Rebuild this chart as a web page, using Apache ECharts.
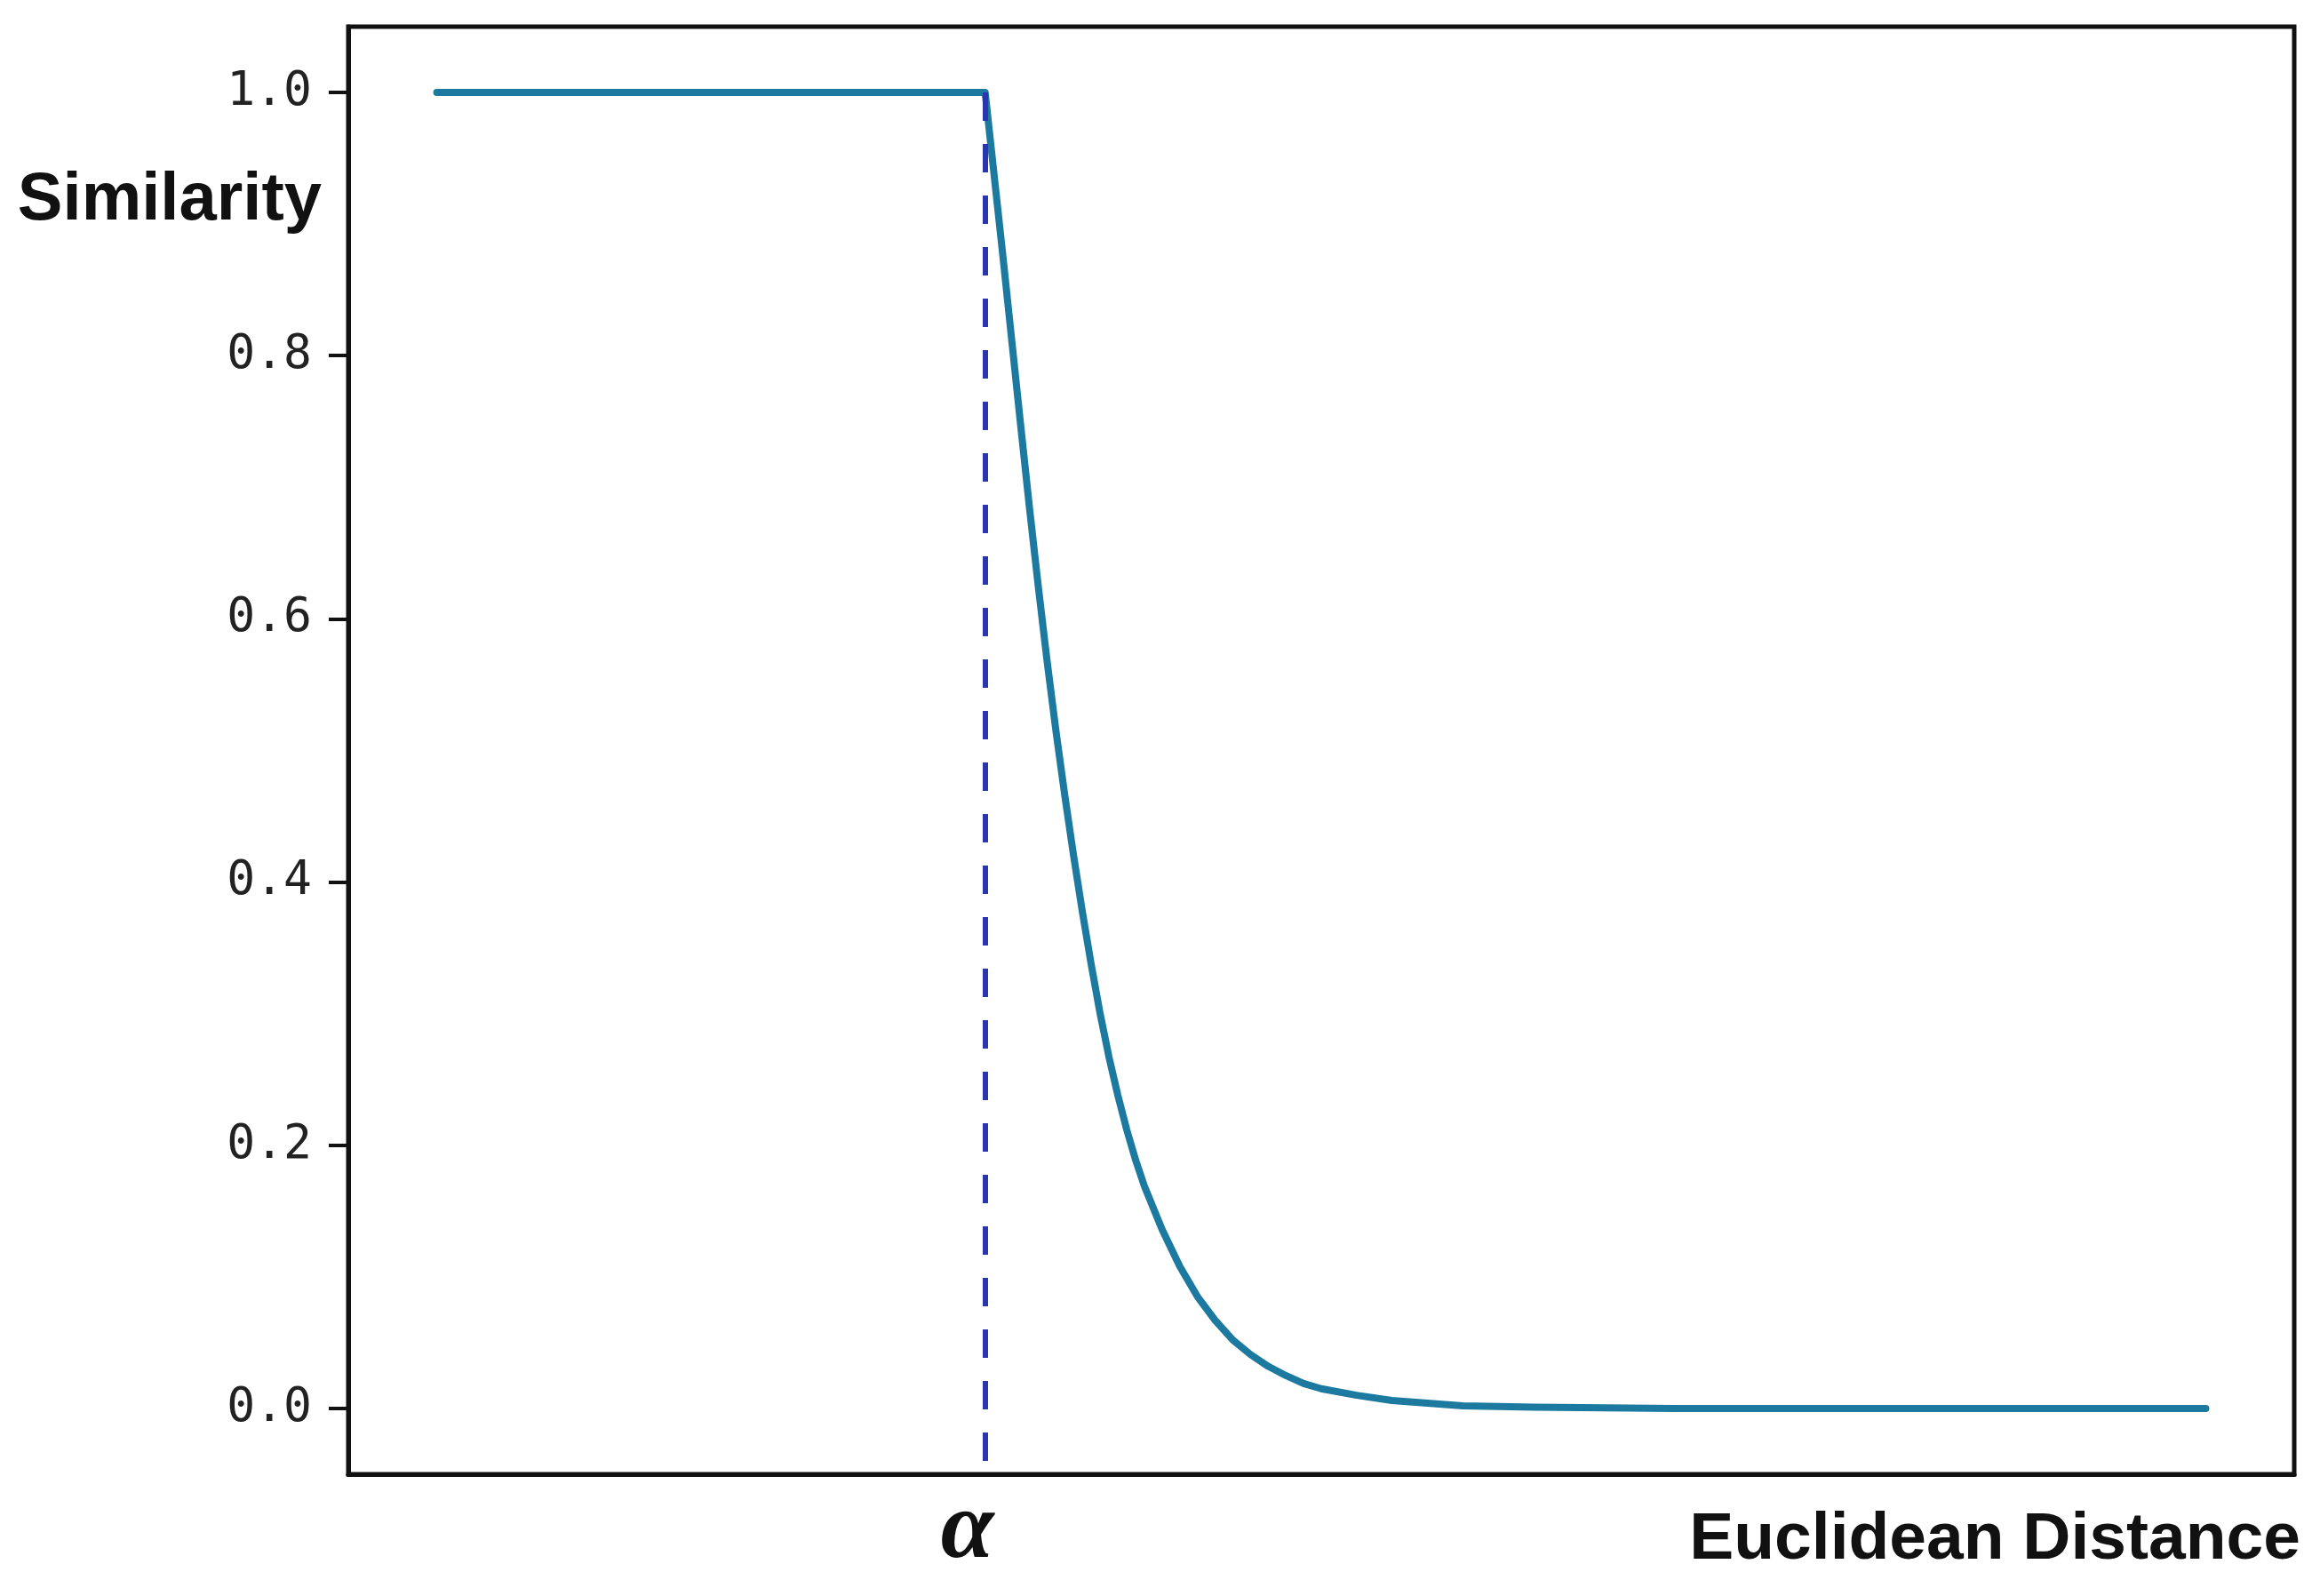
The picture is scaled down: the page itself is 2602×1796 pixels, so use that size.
<!DOCTYPE html>
<html>
<head>
<meta charset="utf-8">
<title>Similarity vs Euclidean Distance</title>
<script src="https://cdn.jsdelivr.net/npm/echarts@6.0.0/dist/echarts.min.js"></script>
<style>
    html, body { margin: 0; padding: 0; background: #fff; }
    #chart { width: 2602px; height: 1796px; }
</style>
</head>
<body>
<div id="chart"></div>
<script>
// values (x in arbitrary distance units)
const distance = [
    0, 1, 2, 3.1, 3.15, 3.2, 3.25, 3.3, 3.35, 3.4, 3.45, 3.5, 3.55, 3.6, 3.65, 3.7, 3.75,
    3.8, 3.85, 3.9, 3.95, 4.0, 4.1, 4.2, 4.3, 4.4, 4.5, 4.6, 4.7, 4.8, 4.9, 5.0, 5.2,
    5.4, 5.6, 5.8, 6.2, 7, 8.5, 10
];
const similarity = [
    1, 1, 1, 1, 0.938, 0.876, 0.812, 0.748, 0.685, 0.625, 0.568, 0.515, 0.466, 0.42, 0.377, 0.337, 0.3,
    0.267, 0.238, 0.212, 0.189, 0.169, 0.136, 0.108, 0.085, 0.067, 0.052, 0.041, 0.032, 0.025, 0.019, 0.015, 0.01,
    0.006, 0.004, 0.002, 0.001, 0, 0, 0
];
const alpha = 3.1;
const yTicks = [0, 0.2, 0.4, 0.6, 0.8, 1.0];
const xLabels = [alpha];

const chart = echarts.init(document.getElementById("chart"));

const points = distance.map((d, i) => [d, similarity[i]]);

const titleStyle = {
    fontFamily: "Liberation Sans",
    fontWeight: "bold",
    fontSize: 76,
    fill: "#111",
    textVerticalAlign: "middle"
};

const option = {
    animation: false,
    backgroundColor: "#ffffff",
    grid: {
        left: 392,
        right: 20,
        top: 30,
        bottom: 137,
        containLabel: false,
        outerBoundsMode: "none",
        show: true,
        borderColor: "#111",
        borderWidth: 5
    },
    // axis titles sit outside the usual name slots, so place them as text
    graphic: [
        {
            type: "text",
            style: Object.assign({ text: "Similarity", x: 362, y: 226, textAlign: "right" }, titleStyle)
        },
        {
            type: "text",
            style: Object.assign({}, titleStyle, { text: "Euclidean Distance", x: 2589, y: 1733, textAlign: "right", fontSize: 75 })
        }
    ],
    xAxis: {
        type: "value",
        min: -0.5,
        max: 10.5,
        axisLine: { show: true, onZero: false, lineStyle: { color: "#111", width: 5 } },
        axisTick: { show: false },
        splitLine: { show: false },
        axisLabel: {
            customValues: xLabels,
            formatter: () => "α",
            fontFamily: "Liberation Serif",
            fontStyle: "italic",
            fontWeight: "bold",
            fontSize: 108,
            color: "#111",
            margin: 11,
            padding: [0, 40, 0, 0]
        }
    },
    yAxis: {
        type: "value",
        min: -0.05,
        max: 1.05,
        axisLine: { show: true, onZero: false, lineStyle: { color: "#111", width: 5 } },
        axisTick: {
            show: true,
            length: 22,
            customValues: yTicks,
            lineStyle: { color: "#111", width: 4 }
        },
        splitLine: { show: false },
        axisLabel: {
            customValues: yTicks,
            formatter: v => v.toFixed(1),
            fontFamily: "DejaVu Sans Mono",
            fontSize: 53,
            color: "#222",
            margin: 41
        }
    },
    series: [
        {
            type: "line",
            data: points,
            showSymbol: false,
            smooth: false,
            lineStyle: { color: "#1c7aa0", width: 8, join: "round", cap: "round" },
            z: 3,
            markLine: {
                silent: true,
                symbol: "none",
                label: { show: false },
                lineStyle: {
                    color: "#2a36b0",
                    width: 6,
                    type: [32, 26]
                },
                data: [
                    [
                        { coord: [alpha, 1] },
                        { coord: [alpha, -0.05] }
                    ]
                ]
            }
        }
    ]
};

chart.setOption(option);
</script>
</body>
</html>
